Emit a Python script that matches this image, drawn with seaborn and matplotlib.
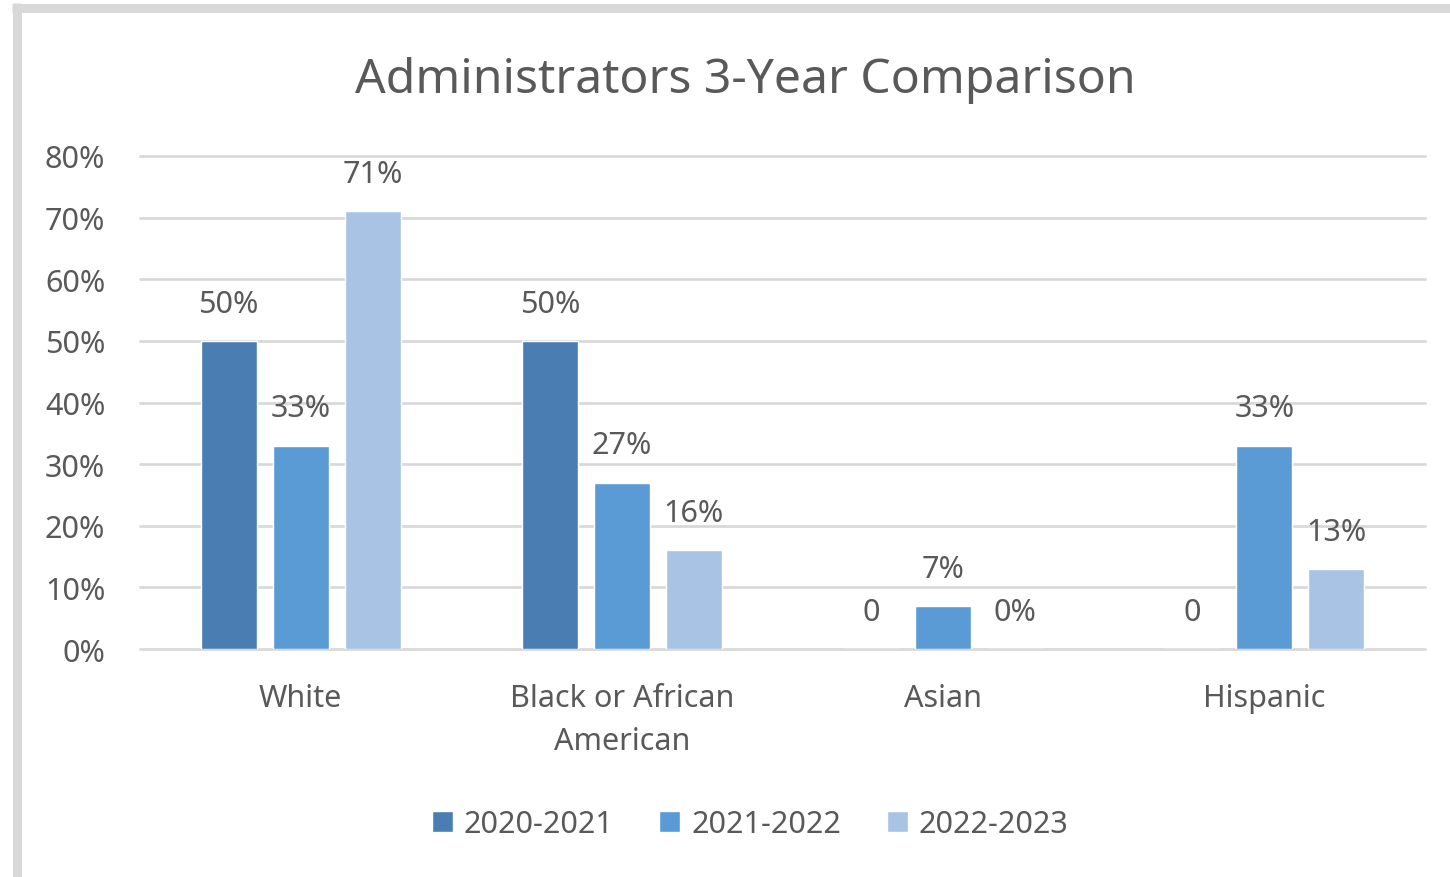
import matplotlib
matplotlib.use("Agg")
import matplotlib.pyplot as plt
import seaborn as sns
import pandas as pd
from matplotlib.lines import Line2D
from matplotlib.ticker import PercentFormatter

categories = ["White", "Black or African\nAmerican", "Asian", "Hispanic"]
years = ["2020-2021", "2021-2022", "2022-2023"]
v2020 = [0.50, 0.50, 0.0, 0.0]
v2021 = [0.33, 0.27, 0.07, 0.33]
v2022 = [0.71, 0.16, 0.0, 0.13]
lab2020 = ["50%", "50%", "0", "0"]
lab2021 = ["33%", "27%", "7%", "33%"]
lab2022 = ["71%", "16%", "0%", "13%"]
colors = ["#4a7eb3", "#5b9bd5", "#a9c3e5"]

rows = []
for y, vals in zip(years, [v2020, v2021, v2022]):
    for c, v in zip(categories, vals):
        rows.append({"category": c, "year": y, "value": v})
df = pd.DataFrame(rows)

sns.set_theme(style="white")
plt.rcParams["font.family"] = ["Noto Sans", "DejaVu Sans"]
TXT = "#595959"

fig = plt.figure(figsize=(14.5, 8.78), dpi=100)
ax = fig.add_axes([140/1450, 1-650/878, (1425-140)/1450, (650-157)/878])

sns.barplot(data=df, x="category", y="value", hue="year", order=categories,
            hue_order=years, palette=colors, width=0.672, gap=0.22,
            saturation=1, ax=ax, legend=True)

ax.set_ylim(0, 0.8)
ax.set_xlim(-0.5, 3.5)
ax.set_yticks([0, 0.1, 0.2, 0.3, 0.4, 0.5, 0.6, 0.7, 0.8])
ax.yaxis.set_major_formatter(PercentFormatter(1.0, decimals=0))
ax.grid(axis="y", color="#d9d9d9", linewidth=2)
ax.set_axisbelow(True)
for gl in ax.get_ygridlines():
    gl.set_clip_on(False)
for s in ax.spines.values():
    s.set_visible(False)
ax.set_xlabel("")
ax.set_ylabel("")
ax.tick_params(axis="y", length=0, pad=25, labelsize=22, labelcolor=TXT)
ax.tick_params(axis="x", length=0, pad=24.5, labelsize=22, labelcolor=TXT)
for t in ax.get_xticklabels():
    t.set_linespacing(1.56)

all_labels = [lab2020, lab2021, lab2022]
for cont, labs in zip(ax.containers, all_labels):
    for bar, lab in zip(cont, labs):
        ax.annotate(lab, (bar.get_x() + bar.get_width()/2, bar.get_height()),
                    xytext=(0, 21), textcoords="offset points",
                    ha="center", va="baseline", fontsize=22, color=TXT)

handles, lbls = ax.get_legend_handles_labels()
ax.legend(handles, lbls, loc="center", bbox_to_anchor=(750/1450, 1-825/878),
          bbox_transform=fig.transFigure, ncol=3, frameon=False, fontsize=22,
          labelcolor=TXT, handlelength=0.68, handleheight=0.68,
          handletextpad=0.36, columnspacing=1.5)

fig.text(745/1450, 1-80/878, "Administrators 3-Year Comparison", ha="center",
         va="center", fontsize=34.6, color=TXT)

# outer frame (left and top edges)
fig.add_artist(Line2D([16.5/1450, 16.5/1450], [0, 1-4/878], transform=fig.transFigure,
                      color="#d9d9d9", linewidth=9*72/100, solid_capstyle="butt"))
fig.add_artist(Line2D([12/1450, 1], [1-8.5/878, 1-8.5/878], transform=fig.transFigure,
                      color="#d9d9d9", linewidth=9*72/100, solid_capstyle="butt"))

fig.savefig("out.png", dpi=100, facecolor="white")
